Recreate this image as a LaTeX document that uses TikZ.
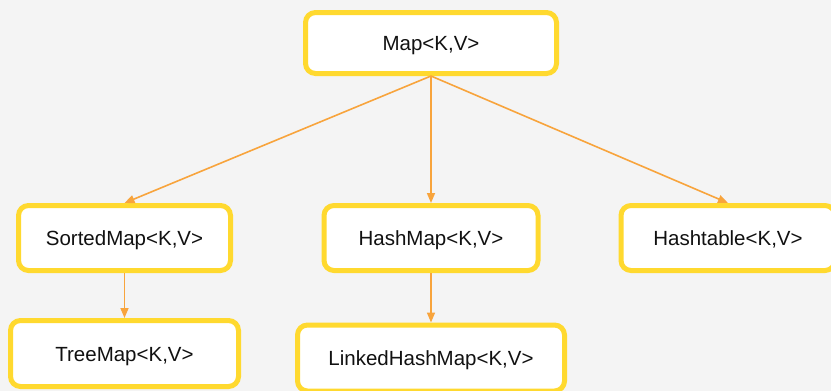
\documentclass[tikz,border=0pt]{standalone}
\usepackage{fontspec}
\setmainfont{Liberation Sans}
\usetikzlibrary{arrows.meta}
\definecolor{bgcol}{HTML}{F4F4F4}
\definecolor{boxedge}{HTML}{FFD92F}
\definecolor{linkcol}{HTML}{F8A43C}
\definecolor{txtcol}{HTML}{111111}
\tikzset{
  classbox/.style={draw=boxedge, fill=white, line width=5pt, rounded corners=10pt,
    inner sep=0pt, text height=15pt, text depth=0pt, text=txtcol,
    font=\fontsize{20.5}{24}\selectfont},
  inherit/.style={draw=linkcol, line width=1.6pt,
    -{Triangle[length=10pt,width=8pt]}},
}
\begin{document}
\begin{tikzpicture}[x=1pt,y=-1pt]
  % canvas
  \fill[bgcol] (0,0) rectangle (831,391);
  \useasboundingbox (0,0) rectangle (831,391);
  \clip (0,0) rectangle (831,391);

  % interface and class boxes
  \node[classbox, minimum width=251pt, minimum height=61pt] (map) at (431,43) {Map<K,V>};
  \node[classbox, minimum width=212pt, minimum height=65pt] (sorted) at (124.5,238) {SortedMap<K,V>};
  \node[classbox, minimum width=214pt, minimum height=65pt] (hash) at (431,238) {HashMap<K,V>};
  \node[classbox, minimum width=214pt, minimum height=65pt] (table) at (728,238) {Hashtable<K,V>};
  \node[classbox, minimum width=228pt, minimum height=66pt] (tree) at (124.5,353.5) {TreeMap<K,V>};
  \node[classbox, minimum width=267pt, minimum height=66pt] (linked) at (431,358) {LinkedHashMap<K,V>};

  % inheritance links
  \draw[inherit] (map.south) -- (sorted.north);
  \draw[inherit] (map.south) -- (hash.north);
  \draw[inherit] (map.south) -- (table.north);
  \draw[inherit] (sorted.south) -- (tree.north);
  \draw[inherit] (hash.south) -- (linked.north);
\end{tikzpicture}
\end{document}
